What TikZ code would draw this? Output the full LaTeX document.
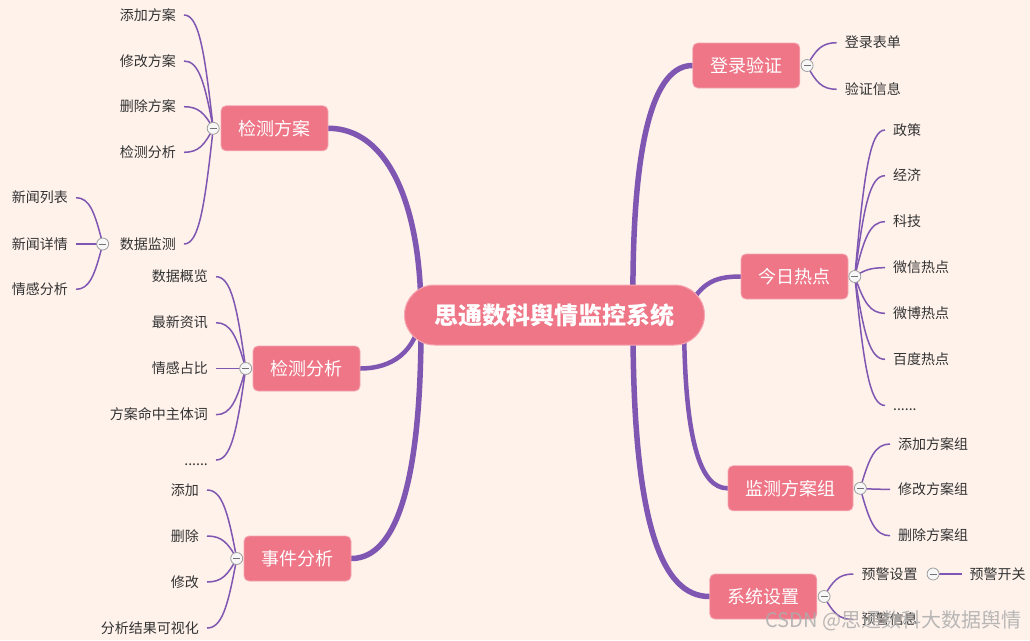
\documentclass[tikz,border=0pt]{standalone}
\usepackage{fontspec}
\setmainfont{Noto Sans CJK SC}
\usetikzlibrary{positioning, backgrounds, calc}
\definecolor{bgpeach}{RGB}{254,242,235}
\definecolor{nodepink}{RGB}{238,118,135}
\definecolor{edgepink}{RGB}{246,166,177}
\definecolor{branchpurple}{RGB}{127,86,177}
\definecolor{leaftext}{RGB}{51,51,51}

\begin{document}
\begin{tikzpicture}[x=1pt, y=-1pt,
  root/.style={fill=nodepink, draw=edgepink, line width=1pt, rounded corners=30pt,
    minimum width=300pt, minimum height=60pt, text=white,
    font=\fontsize{24}{28}\selectfont\bfseries},
  topic/.style={fill=nodepink, draw=edgepink, line width=0.8pt, rounded corners=5pt,
    minimum height=45pt, inner xsep=17.5pt, text=white, font=\fontsize{18}{22}\selectfont},
  leafl/.style={anchor=east, inner xsep=8pt, inner ysep=0pt, text height=12.5pt,
    text depth=2pt, text=leaftext, font=\fontsize{14}{16}\selectfont},
  leafr/.style={leafl, anchor=west},
  fold/.style={circle, draw=gray!75, fill=white!94!gray, line width=0.8pt,
    minimum size=12pt, inner sep=0pt,
    path picture={\draw[gray!90!black, line width=0.8pt]
      ([xshift=-3.5pt]path picture bounding box.center) --
      ([xshift=3.5pt]path picture bounding box.center);}},
  trunk/.style={draw=branchpurple, line width=5.5pt, line cap=round},
  twig/.style={draw=branchpurple, line width=1.5pt}]
\useasboundingbox (0,0) rectangle (1030,640);

% 中心主题
\node[root] (root) at (554.5,315) {思通数科舆情监控系统};
\coordinate (rootL) at ([xshift=17pt]root.west);
\coordinate (rootR) at ([xshift=-72pt]root.east);
\coordinate (rootRR) at ([xshift=-21pt]root.east);

% 左侧分支
\node[topic] (jcfa) at (274.5,128.3) {检测方案};
\node[topic] (jcfx) at (306.5,368.5) {检测分析};
\node[topic] (sjfx) at (297.5,558.5) {事件分析};
% 右侧分支
\node[topic] (dlyz) at (746.3,65.5) {登录验证};
\node[topic] (jrrd) at (794.5,276.5) {今日热点};
\node[topic] (jcz) at (790.5,488.3) {监测方案组};
\node[topic] (xtsz) at (763.3,596.5) {系统设置};

% 折叠按钮
\node[fold, left=1pt of jcfa] (jcfa-f) {};
\node[fold, left=0.5pt of jcfx] (jcfx-f) {};
\node[fold, left=0.5pt of sjfx] (sjfx-f) {};
\node[fold, right=0.5pt of dlyz] (dlyz-f) {};
\node[fold, right=0pt of jrrd] (jrrd-f) {};
\node[fold, right=0.5pt of jcz] (jcz-f) {};
\node[fold, right=0.5pt of xtsz] (xtsz-f) {};

% 检测方案
\node[leafl] (jcfa1) at (184,15) {添加方案};
\node[leafl] (jcfa2) at (184,61) {修改方案};
\node[leafl] (jcfa3) at (184,106.7) {删除方案};
\node[leafl] (jcfa4) at (184,152.3) {检测分析};
\node[leafl] (jcfa5) at (184,244) {数据监测};
\node[fold, left=2.5pt of jcfa5] (jcfa5-f) {};
\node[leafl] (sjjc1) at (76,197.7) {新闻列表};
\node[leafl] (sjjc2) at (76,244) {新闻详情};
\node[leafl] (sjjc3) at (76,289.3) {情感分析};

% 检测分析
\node[leafl] (jcfx1) at (216,276.7) {数据概览};
\node[leafl] (jcfx2) at (216,322.7) {最新资讯};
\node[leafl] (jcfx3) at (216,368.5) {情感占比};
\node[leafl] (jcfx4) at (216,414.7) {方案命中主体词};
\node[leafl] (jcfx5) at (216,460) {......};

% 事件分析
\node[leafl] (sjfx1) at (207,490) {添加};
\node[leafl] (sjfx2) at (207,536) {删除};
\node[leafl] (sjfx3) at (207,582) {修改};
\node[leafl] (sjfx4) at (207,628) {分析结果可视化};

% 登录验证
\node[leafr] (dlyz1) at (836.7,42.7) {登录表单};
\node[leafr] (dlyz2) at (836.7,89.3) {验证信息};

% 今日热点
\node[leafr] (jrrd1) at (885,130) {政策};
\node[leafr] (jrrd2) at (885,175.7) {经济};
\node[leafr] (jrrd3) at (885,221.7) {科技};
\node[leafr] (jrrd4) at (885,267.7) {微信热点};
\node[leafr] (jrrd5) at (885,313.3) {微博热点};
\node[leafr] (jrrd6) at (885,359.3) {百度热点};
\node[leafr] (jrrd7) at (885,405.5) {......};

% 监测方案组
\node[leafr] (jcz1) at (890,444) {添加方案组};
\node[leafr] (jcz2) at (890,489.3) {修改方案组};
\node[leafr] (jcz3) at (890,535.7) {删除方案组};

% 系统设置
\node[leafr] (xtsz1) at (853.3,574) {预警设置};
\node[leafr] (xtsz2) at (853.3,619.5) {预警信息};
\node[fold, right=1pt of xtsz1] (xtsz1-f) {};
\node[leafr, right=22pt of xtsz1-f] (yjkg) {预警开关};

% 水印
\node[anchor=west, text=gray!65, opacity=0.85, font=\fontsize{20}{24}\selectfont]
  (wm) at (762,621) {CSDN @思通数科大数据舆情};

\begin{scope}[on background layer]
\fill[bgpeach] (0,0) rectangle (1030,640);
% 主干
\draw[trunk] (rootL) .. controls (421,205) and (388,128.3) .. (jcfa.east);
\draw[trunk, line width=4.5pt] (rootL) .. controls (416,352) and (392,368.5) .. (jcfx.east);
\draw[trunk] (rootL) .. controls (422,470) and (400,558.5) .. (sjfx.east);
\draw[trunk] (rootR) .. controls (631,135) and (655,65.5) .. (dlyz.west);
\draw[trunk, line width=4.5pt] (rootRR) .. controls (700,284) and (712,276.5) .. (jrrd.west);
\draw[trunk, line width=4.5pt] (rootRR) .. controls (684,440) and (700,488.3) .. (jcz.west);
\draw[trunk] (rootR) .. controls (632,525) and (662,596.5) .. (xtsz.west);
% 细枝
\foreach \f/\t/\a in {jcfa-f/jcfa1/east, jcfa-f/jcfa2/east, jcfa-f/jcfa3/east,
    jcfa-f/jcfa4/east, jcfa-f/jcfa5/east,
    jcfa5-f/sjjc1/east, jcfa5-f/sjjc2/east, jcfa5-f/sjjc3/east,
    jcfx-f/jcfx1/east, jcfx-f/jcfx2/east, jcfx-f/jcfx3/east, jcfx-f/jcfx4/east, jcfx-f/jcfx5/east,
    sjfx-f/sjfx1/east, sjfx-f/sjfx2/east, sjfx-f/sjfx3/east, sjfx-f/sjfx4/east,
    dlyz-f/dlyz1/west, dlyz-f/dlyz2/west,
    jrrd-f/jrrd1/west, jrrd-f/jrrd2/west, jrrd-f/jrrd3/west, jrrd-f/jrrd4/west,
    jrrd-f/jrrd5/west, jrrd-f/jrrd6/west, jrrd-f/jrrd7/west,
    jcz-f/jcz1/west, jcz-f/jcz2/west, jcz-f/jcz3/west,
    xtsz-f/xtsz1/west, xtsz-f/xtsz2/west}
  \draw[twig] let \p1=(\f.center), \p2=(\t.\a) in
    (\p1) .. controls ({\x1+0.3*(\x2-\x1)},{\y1+0.7*(\y2-\y1)})
      and ({\x1+0.5*(\x2-\x1)},{\y2}) .. (\p2);
\draw[twig] (xtsz1-f.center) -- (yjkg.west);
\end{scope}
\end{tikzpicture}
\end{document}
